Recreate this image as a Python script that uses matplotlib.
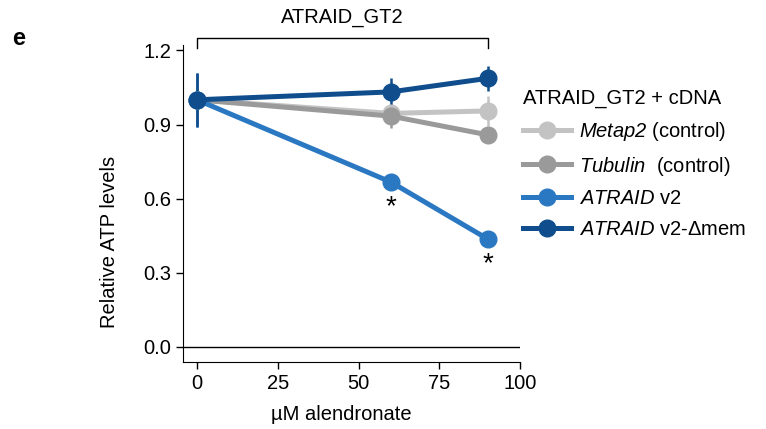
import matplotlib.pyplot as plt
from matplotlib.lines import Line2D

plt.rcParams['font.family'] = ['Liberation Sans', 'DejaVu Sans']
plt.rcParams['mathtext.fontset'] = 'custom'
plt.rcParams['mathtext.sf'] = 'Liberation Sans:italic'
plt.rcParams['mathtext.rm'] = 'Liberation Sans'

dose = [0, 60, 90]
labels = [r'$\mathsf{Metap2}$ (control)', r'$\mathsf{Tubulin}$  (control)',
          r'$\mathsf{ATRAID}$ v2', r'$\mathsf{ATRAID}$ v2-Δmem']
colors = ['#c3c3c3', '#9a9a9a', '#2b78c2', '#0f4d8c']
metap2 = [1.0, 0.945, 0.955]
metap2_err = [0.10, 0.03, 0.06]
tubulin = [1.0, 0.934, 0.858]
tubulin_err = [0.10, 0.05, 0.02]
atraid = [1.0, 0.667, 0.436]
atraid_err = [0.11, 0.02, 0.015]
dmem = [1.0, 1.032, 1.087]
dmem_err = [0.11, 0.055, 0.05]
series = [metap2, tubulin, atraid, dmem]
errors = [metap2_err, tubulin_err, atraid_err, dmem_err]

fs = 14.5
fig = plt.figure(figsize=(7.66, 4.29), dpi=100)
ax = fig.add_axes([0.239, 0.156, 0.440, 0.738])

for y, e, c in zip(series, errors, colors):
    ax.errorbar(dose, y, yerr=e, color=c, lw=3.6, marker='o', ms=12,
                elinewidth=1.8, capsize=0)

# significance stars
for i in [1, 2]:
    ax.text(dose[i], atraid[i] - 0.05, '*', ha='center', va='top', fontsize=20)

ax.axhline(0, color='black', lw=1)
ax.set_xlim(-4.3, 100)
ax.set_ylim(-0.062, 1.22)
ax.set_xticks([0, 25, 50, 75, 100])
ax.set_yticks([0.0, 0.3, 0.6, 0.9, 1.2])
ax.set_yticklabels(['0.0', '0.3', '0.6', '0.9', '1.2'])
ax.spines['top'].set_visible(False)
ax.spines['right'].set_visible(False)
ax.tick_params(labelsize=fs, length=5, width=1)
ax.set_xlabel('µM alendronate', fontsize=fs)
ax.set_ylabel('Relative ATP levels', fontsize=fs)
ax.yaxis.set_label_coords(-0.19, 0.38)
ax.xaxis.set_label_coords(0.47, -0.135)

# bracket over the dose range
ax.plot([0, 0, 90, 90], [1.21, 1.25, 1.25, 1.21], color='black', lw=1, clip_on=False)
ax.text(45, 1.295, 'ATRAID_GT2', ha='center', va='bottom', fontsize=fs)

handles = [Line2D([], [], color=c, lw=3.6, marker='o', ms=12) for c in colors]
leg = ax.legend(handles, labels, title='ATRAID_GT2 + cDNA', loc='upper left',
                bbox_to_anchor=(0.955, 0.92), frameon=False, fontsize=fs,
                title_fontsize=fs, handlelength=2.4, handletextpad=0.4,
                labelspacing=0.58)
leg._legend_box.align = 'left'

fig.text(0.016, 0.895, 'e', fontsize=17, fontweight='bold')

fig.savefig('out.png', dpi=100)
